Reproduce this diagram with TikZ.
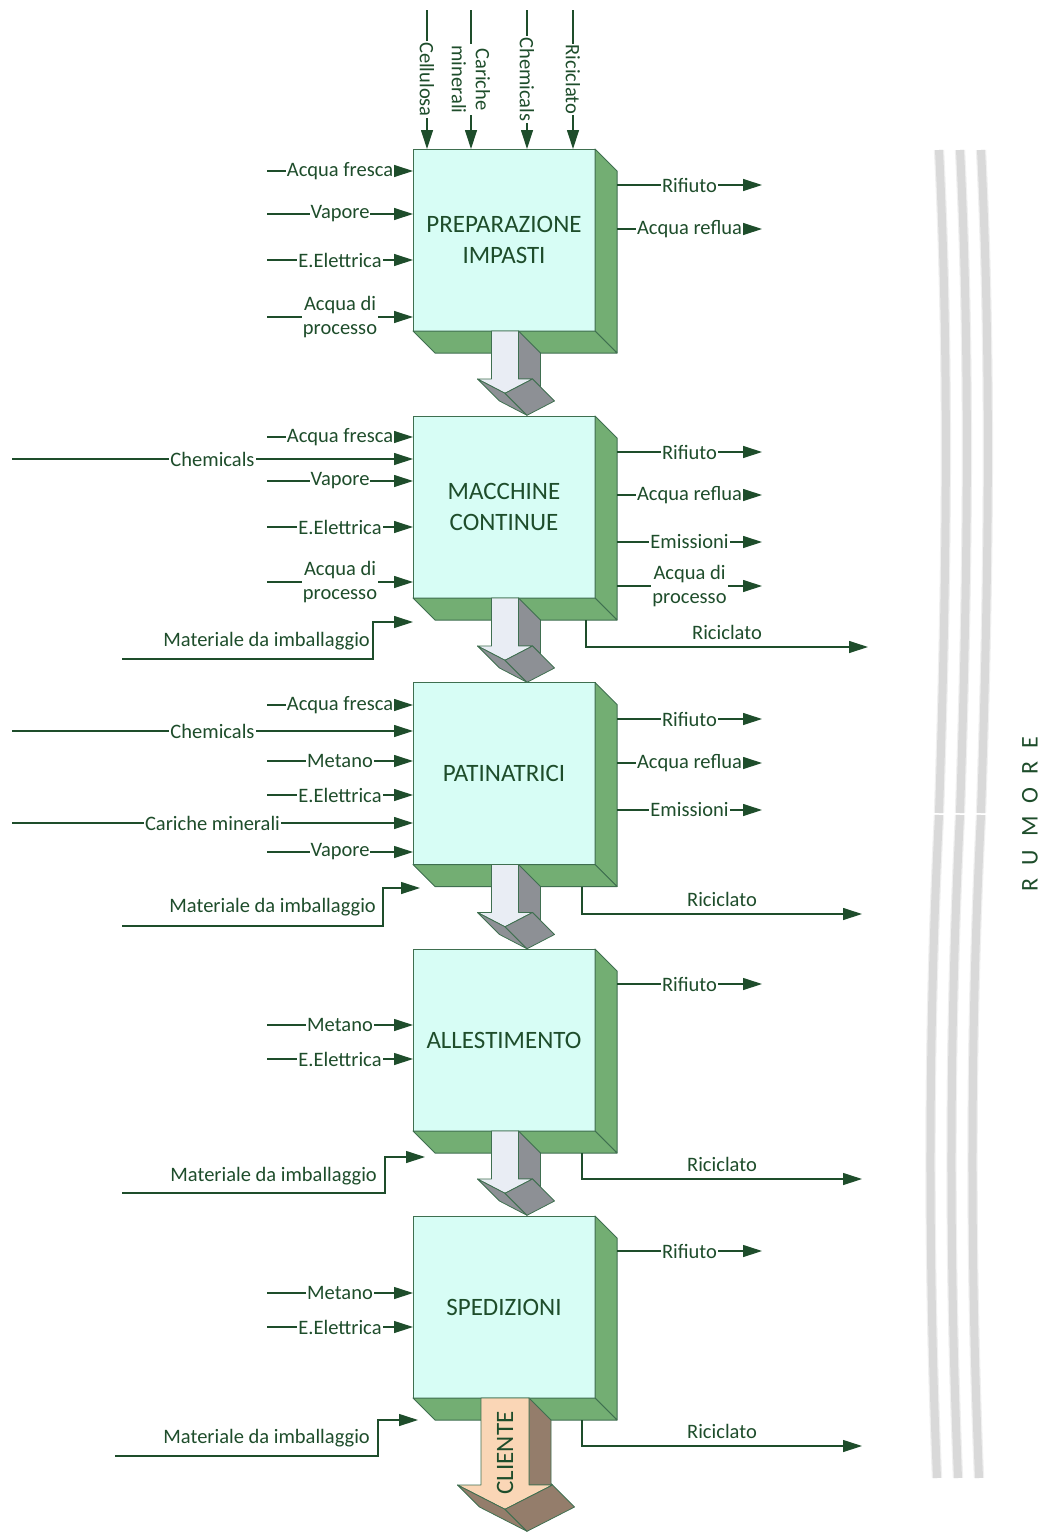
\documentclass[tikz,border=0pt]{standalone}
\usepackage{fontspec}
\setmainfont{Carlito}
\usetikzlibrary{arrows.meta,calc}

\definecolor{ink}{HTML}{1E4D2B}
\definecolor{boxfront}{HTML}{D7FDF5}
\definecolor{boxside}{HTML}{73AE73}
\definecolor{boxline}{HTML}{3F6F50}
\definecolor{passlight}{HTML}{E9EDF4}
\definecolor{passdark}{HTML}{8D9095}
\definecolor{clientlight}{HTML}{FAD6B6}
\definecolor{clientdark}{HTML}{947D6B}
\definecolor{noise}{HTML}{D9D9D9}
\definecolor{noiseedge}{HTML}{F0F0F0}

% right and bottom faces of a process box
\newcommand{\boxdepth}[1]{%
  \filldraw[side] (#1.north east) -- ++(22,22) -- ++(0,182) -- (#1.south east) -- cycle;
  \filldraw[side] (#1.south west) -- ++(22,22) -- ++(182,0) -- (#1.south east) -- cycle;
}
% 3d arrow below a box: box, half shaft, shaft length, half head, tip drop, light, dark
\newcommand{\passarrow}[7]{%
  \begin{scope}[shift={($(#1.south)+(1,0)$)}, draw=boxline, line width=0.8pt, line join=round]
    \filldraw[fill=#7] (#2,0) -- ++(22,22) -- (#2+22,#3+#2+22-#4) -- (#4,#3) -- (#2,#3) -- cycle;
    \filldraw[fill=#6] (-#2,0) -- (-#2,#3) -- (-#4,#3) -- (0,#3+#5) -- (#4,#3) -- (#2,#3) -- (#2,0) -- cycle;
    \filldraw[fill=#7] (-#4,#3) -- (0,#3+#5) -- (22,#3+#5+22) -- (-#4+22,#3+22) -- cycle;
    \filldraw[fill=#7] (0,#3+#5) -- (#4,#3) -- (#4+22,#3+22) -- (22,#3+#5+22) -- cycle;
  \end{scope}}

\begin{document}
\begin{tikzpicture}[x=1pt, y=-1pt,
    box/.style={draw=boxline, line width=1pt, fill=boxfront, minimum width=182pt,
      minimum height=182pt, inner sep=0pt, outer sep=0pt, align=center, text=ink,
      font=\fontsize{25}{31}\selectfont},
    side/.style={draw=boxline, line width=1pt, fill=boxside, line join=round},
    flow/.style={draw=ink, line width=1.2pt, -{Triangle[length=19pt,width=12pt]}},
    lbl/.style={fill=white, inner sep=1pt, text=ink, align=center,
      font=\fontsize{20.5}{24}\selectfont},
    note/.style={inner sep=1pt, text=ink, font=\fontsize{20.5}{24}\selectfont},
    noisebar/.style={draw=noiseedge, line width=1.2pt, double=noise, double distance=8pt}]
  \useasboundingbox (0,0) rectangle (1048,1539);

  % noise bars
  \draw[noisebar] (939,150) .. controls (950,370) and (946,600) .. (939,813);
  \draw[noisebar] (960,150) .. controls (971,370) and (967,600) .. (960,813);
  \draw[noisebar] (981,150) .. controls (992,370) and (988,600) .. (981,813);
  \draw[noisebar] (939,815) .. controls (928,1030) and (928,1260) .. (937,1478);
  \draw[noisebar] (960,815) .. controls (949,1030) and (949,1260) .. (958,1478);
  \draw[noisebar] (981,815) .. controls (970,1030) and (970,1260) .. (979,1478);
  \node[text=ink, rotate=90, font=\fontsize{24}{24}\selectfont] (rumore) at (1030,814)
    {R\hspace{13pt}U\hspace{13pt}M\hspace{13pt}O\hspace{13pt}R\hspace{13pt}E};

  % process boxes
  \node[box] (p1) at (504,240) {PREPARAZIONE\\IMPASTI};
  \node[box] (p2) at (504,507) {MACCHINE\\CONTINUE};
  \node[box] (p3) at (504,773.5) {PATINATRICI};
  \node[box] (p4) at (504,1040) {ALLESTIMENTO};
  \node[box] (p5) at (504,1307) {SPEDIZIONI};
  \boxdepth{p1}
  \boxdepth{p2}
  \boxdepth{p3}
  \boxdepth{p4}
  \boxdepth{p5}
  \passarrow{p1}{13.5}{48}{27.5}{14.3}{passlight}{passdark}
  \passarrow{p2}{13.5}{48}{27.5}{14.3}{passlight}{passdark}
  \passarrow{p3}{13.5}{48}{27.5}{14.3}{passlight}{passdark}
  \passarrow{p4}{13.5}{48}{27.5}{14.3}{passlight}{passdark}
  \passarrow{p5}{24}{87}{47.5}{24.3}{clientlight}{clientdark}
  \node[text=ink, rotate=90, font=\fontsize{25}{25}\selectfont] (cliente) at (505,1453) {CLIENTE};

  % end columns
  \coordinate (outx) at (762,0);

  % raw materials on top
  \coordinate (t1) at (427,10);
  \coordinate (t2) at (471,10);
  \coordinate (t3) at (527,10);
  \coordinate (t4) at (573,10);
  \draw[flow] (t1) -- node[lbl, rotate=-90]{Cellulosa} (t1 |- p1.north);
  \draw[flow] (t2) -- node[lbl, rotate=-90]{Cariche\\minerali} (t2 |- p1.north);
  \draw[flow] (t3) -- node[lbl, rotate=-90]{Chemicals} (t3 |- p1.north);
  \draw[flow] (t4) -- node[lbl, rotate=-90]{Riciclato} (t4 |- p1.north);

  % preparazione impasti
  \coordinate (a11) at (267,171);
  \coordinate (a12) at (267,214);
  \coordinate (a13) at (267,260);
  \coordinate (a14) at (267,317);
  \draw[flow] (a11) -- node[lbl]{Acqua fresca} (a11 -| p1.west);
  \draw[flow] (a12) -- node[lbl]{Vapore} (a12 -| p1.west);
  \draw[flow] (a13) -- node[lbl]{E.Elettrica} (a13 -| p1.west);
  \draw[flow] (a14) -- node[lbl]{Acqua di\\processo} (a14 -| p1.west);
  \coordinate (o11) at (617,185);
  \coordinate (o12) at (617,229);
  \draw[flow] (o11) -- node[lbl]{Rifiuto} (o11 -| outx);
  \draw[flow] (o12) -- node[lbl]{Acqua reflua} (o12 -| outx);

  % macchine continue
  \coordinate (a21) at (267,437);
  \coordinate (a22) at (12,459);
  \coordinate (a23) at (267,481);
  \coordinate (a24) at (267,527);
  \coordinate (a25) at (267,582);
  \draw[flow] (a21) -- node[lbl]{Acqua fresca} (a21 -| p2.west);
  \draw[flow] (a22) -- node[lbl]{Chemicals} (a22 -| p2.west);
  \draw[flow] (a23) -- node[lbl]{Vapore} (a23 -| p2.west);
  \draw[flow] (a24) -- node[lbl]{E.Elettrica} (a24 -| p2.west);
  \draw[flow] (a25) -- node[lbl]{Acqua di\\processo} (a25 -| p2.west);
  \coordinate (m2s) at (122,659);
  \coordinate (m2k) at (373,659);
  \coordinate (m2e) at (413,622);
  \draw[flow] (m2s) -- (m2k) |- (m2e);
  \node[note, anchor=east] (m2l) at (371,641) {Materiale da imballaggio};
  \coordinate (o21) at (617,452);
  \coordinate (o22) at (617,495);
  \coordinate (o23) at (617,542);
  \coordinate (o24) at (617,586);
  \draw[flow] (o21) -- node[lbl]{Rifiuto} (o21 -| outx);
  \draw[flow] (o22) -- node[lbl]{Acqua reflua} (o22 -| outx);
  \draw[flow] (o23) -- node[lbl]{Emissioni} (o23 -| outx);
  \draw[flow] (o24) -- node[lbl]{Acqua di\\processo} (o24 -| outx);
  \coordinate (c2s) at (586,620);
  \coordinate (c2e) at (868,647);
  \draw[flow] (c2s) |- node[note, pos=0.75, above=6pt]{Riciclato} (c2e);

  % patinatrici
  \coordinate (a31) at (267,705);
  \coordinate (a32) at (12,731);
  \coordinate (a33) at (267,761);
  \coordinate (a34) at (267,795);
  \coordinate (a35) at (12,823);
  \coordinate (a36) at (267,852);
  \draw[flow] (a31) -- node[lbl]{Acqua fresca} (a31 -| p3.west);
  \draw[flow] (a32) -- node[lbl]{Chemicals} (a32 -| p3.west);
  \draw[flow] (a33) -- node[lbl]{Metano} (a33 -| p3.west);
  \draw[flow] (a34) -- node[lbl]{E.Elettrica} (a34 -| p3.west);
  \draw[flow] (a35) -- node[lbl]{Cariche minerali} (a35 -| p3.west);
  \draw[flow] (a36) -- node[lbl]{Vapore} (a36 -| p3.west);
  \coordinate (m3s) at (122,926);
  \coordinate (m3k) at (383,926);
  \coordinate (m3e) at (420,888);
  \draw[flow] (m3s) -- (m3k) |- (m3e);
  \node[note, anchor=east] (m3l) at (377,907) {Materiale da imballaggio};
  \coordinate (o31) at (617,719);
  \coordinate (o32) at (617,763);
  \coordinate (o33) at (617,810);
  \draw[flow] (o31) -- node[lbl]{Rifiuto} (o31 -| outx);
  \draw[flow] (o32) -- node[lbl]{Acqua reflua} (o32 -| outx);
  \draw[flow] (o33) -- node[lbl]{Emissioni} (o33 -| outx);
  \coordinate (c3s) at (582,886.5);
  \coordinate (c3e) at (862,914);
  \draw[flow] (c3s) |- node[note, pos=0.75, above=6pt]{Riciclato} (c3e);

  % allestimento
  \coordinate (a41) at (267,1025);
  \coordinate (a42) at (267,1059);
  \draw[flow] (a41) -- node[lbl]{Metano} (a41 -| p4.west);
  \draw[flow] (a42) -- node[lbl]{E.Elettrica} (a42 -| p4.west);
  \coordinate (m4s) at (122,1193);
  \coordinate (m4k) at (385,1193);
  \coordinate (m4e) at (425,1157);
  \draw[flow] (m4s) -- (m4k) |- (m4e);
  \node[note, anchor=east] (m4l) at (378,1176) {Materiale da imballaggio};
  \coordinate (o41) at (617,984);
  \draw[flow] (o41) -- node[lbl]{Rifiuto} (o41 -| outx);
  \coordinate (c4s) at (582,1153);
  \coordinate (c4e) at (862,1179);
  \draw[flow] (c4s) |- node[note, pos=0.75, above=6pt]{Riciclato} (c4e);

  % spedizioni
  \coordinate (a51) at (267,1293);
  \coordinate (a52) at (267,1327);
  \draw[flow] (a51) -- node[lbl]{Metano} (a51 -| p5.west);
  \draw[flow] (a52) -- node[lbl]{E.Elettrica} (a52 -| p5.west);
  \coordinate (m5s) at (115,1456);
  \coordinate (m5k) at (378,1456);
  \coordinate (m5e) at (418,1420);
  \draw[flow] (m5s) -- (m5k) |- (m5e);
  \node[note, anchor=east] (m5l) at (371,1438) {Materiale da imballaggio};
  \coordinate (o51) at (617,1251);
  \draw[flow] (o51) -- node[lbl]{Rifiuto} (o51 -| outx);
  \coordinate (c5s) at (582,1420);
  \coordinate (c5e) at (862,1446);
  \draw[flow] (c5s) |- node[note, pos=0.75, above=6pt]{Riciclato} (c5e);
\end{tikzpicture}
\end{document}
